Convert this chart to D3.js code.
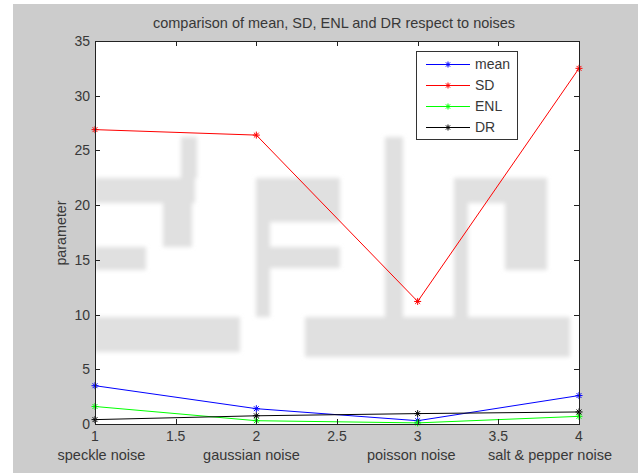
<!DOCTYPE html>
<html>
<head>
<meta charset="utf-8">
<script src="https://cdn.jsdelivr.net/npm/d3@7"></script>
<style>
  html, body { margin: 0; padding: 0; background: #ffffff; }
  svg { display: block; }
  text { font-family: "Liberation Sans", Arial, Helvetica, sans-serif; fill: #383838; }
</style>
</head>
<body>
<svg id="chart" width="638" height="473"></svg>
<script>
// ---- data ----
const xValues = [1, 2, 3, 4];
const categories = ["speckle noise", "gaussian noise", "poisson noise", "salt & pepper noise"];
const categoryLabelX = [1.04, 1.97, 2.96, 3.82];
const meanValues = [3.5, 1.4, 0.3, 2.6];
const sdValues = [26.9, 26.4, 11.2, 32.5];
const enlValues = [1.6, 0.3, 0.1, 0.7];
const drValues = [0.4, 0.75, 0.95, 1.1];
const seriesNames = ["mean", "SD", "ENL", "DR"];
const xTicks = [1, 1.5, 2, 2.5, 3, 3.5, 4];
const yTicks = [0, 5, 10, 15, 20, 25, 30, 35];
const titleText = "comparison of mean, SD, ENL and DR respect to noises";
const yLabelText = "parameter";

const seriesColors = ["#0000ff", "#ff0000", "#00ff00", "#000000"];
const seriesData = [meanValues, sdValues, enlValues, drValues];

const svg = d3.select("#chart");
const plot = { left: 95, right: 579, top: 41, bottom: 424 };

// figure background
svg.append("rect").attr("x", 13).attr("y", 4).attr("width", 625).attr("height", 469).attr("fill", "#cccccc");

const x = d3.scaleLinear().domain([1, 4]).range([plot.left, plot.right]);
const y = d3.scaleLinear().domain([0, 35]).range([plot.bottom, plot.top]);

// axes background
svg.append("rect").attr("x", plot.left).attr("y", plot.top)
  .attr("width", plot.right - plot.left).attr("height", plot.bottom - plot.top).attr("fill", "#ffffff");

// watermark (decorative)
const defs = svg.append("defs");
defs.append("filter").attr("id", "wmblur").append("feGaussianBlur").attr("stdDeviation", 2);
defs.append("clipPath").attr("id", "plotclip").append("rect")
  .attr("x", plot.left).attr("y", plot.top).attr("width", plot.right - plot.left).attr("height", plot.bottom - plot.top);
const wmBlocks = [
  [95, 178, 100, 25], [181, 137, 16, 41], [163, 203, 29, 44], [95, 247, 51, 23],
  [95, 317, 145, 35], [305, 317, 265, 40],
  [256, 178, 84, 44], [256, 222, 14, 95], [268, 247, 72, 21], [385, 137, 18, 180],
  [454, 178, 93, 25], [505, 203, 42, 67], [454, 203, 14, 114]
];
const wm = svg.append("g").attr("clip-path", "url(#plotclip)").append("g").attr("filter", "url(#wmblur)");
wm.selectAll("rect").data(wmBlocks).join("rect")
  .attr("x", d => d[0]).attr("y", d => d[1]).attr("width", d => d[2]).attr("height", d => d[3])
  .attr("fill", "#e0e0e0");

// lines
const line = d3.line().x((d, i) => x(xValues[i])).y(d => y(d));
const series = svg.append("g");
seriesData.forEach((vals, k) => {
  series.append("path").attr("d", line(vals)).attr("fill", "none")
    .attr("stroke", seriesColors[k]).attr("stroke-width", 1);
});

function star(g, cx, cy, color, r) {
  const p = `M${cx - r},${cy}L${cx + r},${cy}M${cx},${cy - r}L${cx},${cy + r}` +
    `M${cx - r * 0.7},${cy - r * 0.7}L${cx + r * 0.7},${cy + r * 0.7}M${cx - r * 0.7},${cy + r * 0.7}L${cx + r * 0.7},${cy - r * 0.7}`;
  g.append("path").attr("d", p).attr("stroke", color).attr("stroke-width", 1).attr("fill", "none");
}
seriesData.forEach((vals, k) => {
  vals.forEach((v, i) => star(series, x(xValues[i]), y(v), seriesColors[k], 3.5));
});

// axes box
svg.append("rect").attr("x", plot.left + 0.5).attr("y", plot.top + 0.5)
  .attr("width", plot.right - plot.left).attr("height", plot.bottom - plot.top)
  .attr("fill", "none").attr("stroke", "#222").attr("stroke-width", 1);

const tickLen = 5;
const axisG = svg.append("g");
xTicks.forEach(t => {
  const px = Math.round(x(t)) + 0.5;
  axisG.append("line").attr("x1", px).attr("x2", px).attr("y1", plot.bottom).attr("y2", plot.bottom - tickLen).attr("stroke", "#222");
  axisG.append("line").attr("x1", px).attr("x2", px).attr("y1", plot.top).attr("y2", plot.top + tickLen).attr("stroke", "#222");
  axisG.append("text").attr("x", x(t)).attr("y", 441).attr("text-anchor", "middle")
    .attr("font-size", 14).text(d3.format("~g")(t));
});
yTicks.forEach(t => {
  const py = Math.round(y(t)) + 0.5;
  axisG.append("line").attr("x1", plot.left).attr("x2", plot.left + tickLen).attr("y1", py).attr("y2", py).attr("stroke", "#222");
  axisG.append("line").attr("x1", plot.right).attr("x2", plot.right - tickLen).attr("y1", py).attr("y2", py).attr("stroke", "#222");
  axisG.append("text").attr("x", plot.left - 5).attr("y", y(t) + 5).attr("text-anchor", "end")
    .attr("font-size", 14).text(t);
});

// category labels
categories.forEach((c, i) => {
  svg.append("text").attr("x", x(categoryLabelX[i])).attr("y", 460).attr("text-anchor", "middle")
    .attr("font-size", 14.5).text(c);
});

// title and y label
svg.append("text").attr("x", 334).attr("y", 28).attr("text-anchor", "middle").attr("font-size", 14.5).text(titleText);
svg.append("text").attr("transform", "translate(66,233) rotate(-90)").attr("text-anchor", "middle")
  .attr("font-size", 14.3).text(yLabelText);

// legend
const lg = svg.append("g");
lg.append("rect").attr("x", 416.5).attr("y", 51.5).attr("width", 101).attr("height", 88)
  .attr("fill", "#ffffff").attr("stroke", "#333").attr("stroke-width", 1);
const legendY = [64, 85, 106, 127];
seriesNames.forEach((n, k) => {
  lg.append("line").attr("x1", 426).attr("x2", 470).attr("y1", legendY[k] + 0.5).attr("y2", legendY[k] + 0.5)
    .attr("stroke", seriesColors[k]).attr("stroke-width", 1);
  star(lg, 448, legendY[k] + 0.5, seriesColors[k], 3);
  lg.append("text").attr("x", 475).attr("y", legendY[k] + 5).attr("font-size", 14).text(n);
});
</script>
</body>
</html>
